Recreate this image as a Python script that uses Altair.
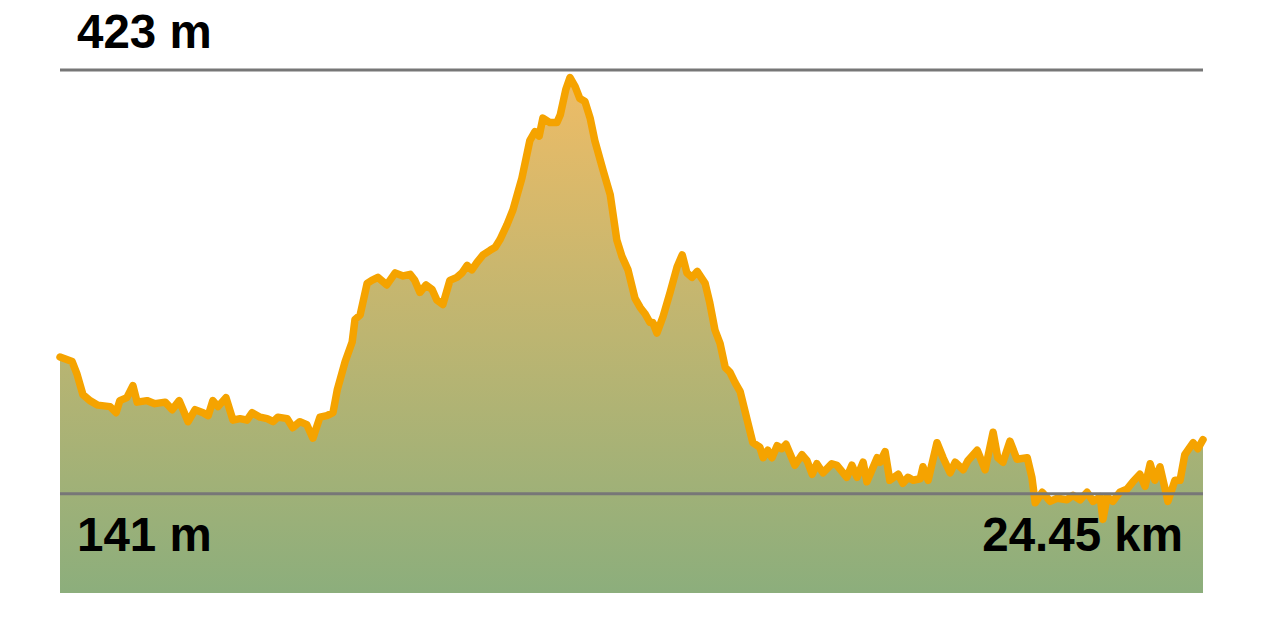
import altair as alt
import pandas as pd

# Elevation profile: distance (km) and elevation (m)
distance_km = [
    0.00, 0.26, 0.36, 0.49, 0.64, 0.81, 1.07, 1.20, 1.28, 1.43, 1.56, 1.65, 1.86, 2.03, 2.25,
    2.40, 2.55, 2.74, 2.89, 3.06, 3.17, 3.27, 3.38, 3.55, 3.70, 3.85, 4.00, 4.11, 4.28, 4.43,
    4.56, 4.66, 4.86, 4.98, 5.13, 5.28, 5.41, 5.56, 5.71, 5.84, 5.93, 6.10, 6.25, 6.31, 6.42,
    6.57, 6.67, 6.80, 6.99, 7.17, 7.34, 7.49, 7.59, 7.70, 7.83, 7.96, 8.06, 8.19, 8.34, 8.49,
    8.60, 8.71, 8.81, 8.92, 9.05, 9.20, 9.31, 9.41, 9.56, 9.69, 9.78, 9.88, 10.05, 10.16, 10.25,
    10.33, 10.48, 10.63, 10.70, 10.82, 10.91, 11.02, 11.12, 11.23, 11.34, 11.44, 11.62, 11.77, 11.91, 12.02,
    12.15, 12.30, 12.41, 12.51, 12.62, 12.68, 12.77, 12.90, 13.05, 13.20, 13.31, 13.41, 13.52, 13.63, 13.80,
    13.90, 14.01, 14.12, 14.23, 14.33, 14.44, 14.55, 14.70, 14.82, 14.97, 15.04, 15.14, 15.23, 15.34, 15.44,
    15.53, 15.72, 15.87, 15.98, 16.09, 16.19, 16.32, 16.51, 16.62, 16.83, 16.94, 17.05, 17.18, 17.26, 17.48,
    17.54, 17.65, 17.75, 17.93, 18.03, 18.14, 18.25, 18.40, 18.46, 18.57, 18.76, 18.89, 19.04, 19.15, 19.32,
    19.42, 19.62, 19.79, 19.96, 20.06, 20.17, 20.32, 20.47, 20.69, 20.79, 20.86, 21.01, 21.18, 21.33, 21.54,
    21.67, 21.82, 21.97, 22.10, 22.25, 22.31, 22.40, 22.52, 22.67, 22.82, 22.95, 23.10, 23.21, 23.32, 23.42,
    23.53, 23.70, 23.85, 23.96, 24.06, 24.24, 24.34, 24.45,
]
elevation_m = [
    232, 229, 221, 207, 203, 200, 199, 195, 203, 205, 213, 202, 203, 201, 202,
    197, 203, 189, 197, 195, 193, 203, 199, 205, 190, 191, 190, 195, 192, 191,
    189, 192, 191, 185, 189, 187, 178, 192, 193, 195, 210, 229, 242, 257, 260,
    281, 283, 285, 280, 288, 286, 287, 283, 275, 280, 277, 270, 267, 283, 285,
    288, 293, 290, 295, 300, 303, 305, 310, 320, 330, 340, 351, 376, 382, 379,
    391, 388, 388, 393, 410, 418, 412, 404, 402, 391, 376, 356, 340, 310, 299,
    290, 271, 265, 261, 255, 255, 248, 259, 275, 292, 300, 288, 285, 289, 281,
    268, 250, 241, 225, 222, 215, 209, 190, 175, 172, 165, 170, 165, 173, 171,
    174, 160, 167, 163, 154, 161, 155, 161, 160, 152, 160, 152, 162, 149, 165,
    162, 169, 150, 154, 148, 152, 150, 151, 159, 150, 175, 165, 155, 162, 157,
    163, 170, 157, 182, 165, 162, 176, 164, 165, 152, 135, 142, 136, 138, 137,
    140, 137, 142, 136, 139, 124, 139, 136, 142, 144, 149, 154, 146, 161, 150,
    159, 136, 150, 150, 167, 175, 171, 177,
]

# Reference levels and labels
ref_levels = [423, 141]
ref_labels = ["423 m", "141 m"]
total_distance = 24.45
distance_label = "24.45 km"
y_floor = 75

df = pd.DataFrame({"km": distance_km, "elev": elevation_m})
df["base"] = y_floor
refs = pd.DataFrame({"level": ref_levels, "label": ref_labels,
                     "x0": [0.0, 0.0], "x1": [total_distance, total_distance]})
dist_df = pd.DataFrame({"km": [total_distance], "level": [ref_levels[1]], "label": [distance_label]})

x_scale = alt.Scale(domain=[0, total_distance], nice=False, zero=False)
y_scale = alt.Scale(domain=[y_floor, ref_levels[0]], nice=False, zero=False)

x_enc = alt.X("km:Q", scale=x_scale, axis=None)
y_enc = alt.Y("elev:Q", scale=y_scale, axis=None)

area = alt.Chart(df).mark_area(
    color=alt.LinearGradient(
        gradient="linear",
        stops=[
            alt.GradientStop(color="#eebc66", offset=0),
            alt.GradientStop(color="#8cae7c", offset=1),
        ],
        x1=0, x2=0, y1=0, y2=1,
    ),
    interpolate="linear",
).encode(x=x_enc, y=y_enc, y2="base:Q")

line = alt.Chart(df).mark_line(
    color="#f5a300", strokeWidth=7.5, strokeJoin="round", strokeCap="round"
).encode(x=x_enc, y=y_enc)

rules = alt.Chart(refs).mark_rule(color="#777777", strokeWidth=3).encode(
    x=alt.X("x0:Q", scale=x_scale, axis=None),
    x2="x1:Q",
    y=alt.Y("level:Q", scale=y_scale, axis=None),
)

font = "Liberation Sans"
text_style = dict(font=font, fontSize=47.5, fontWeight="bold", color="#000000",
                  baseline="alphabetic")

top_label = alt.Chart(refs.iloc[[0]]).mark_text(
    align="left", dx=17, dy=-22, **text_style
).encode(x=alt.X("x0:Q", scale=x_scale, axis=None),
         y=alt.Y("level:Q", scale=y_scale, axis=None), text="label:N")

low_label = alt.Chart(refs.iloc[[1]]).mark_text(
    align="left", dx=17, dy=57, **text_style
).encode(x=alt.X("x0:Q", scale=x_scale, axis=None),
         y=alt.Y("level:Q", scale=y_scale, axis=None), text="label:N")

dist_label = alt.Chart(dist_df).mark_text(
    align="right", dx=-20, dy=57, **text_style
).encode(x=alt.X("km:Q", scale=x_scale, axis=None),
         y=alt.Y("level:Q", scale=y_scale, axis=None), text="label:N")

chart = alt.layer(area, line, rules, top_label, low_label, dist_label).properties(
    width=1143, height=523,
    autosize=alt.AutoSizeParams(type="none"),
    padding={"left": 52, "top": 62, "right": 10, "bottom": 10},
).configure_view(stroke=None)

chart.save("out.html", embed_options={"renderer": "svg", "actions": False})
